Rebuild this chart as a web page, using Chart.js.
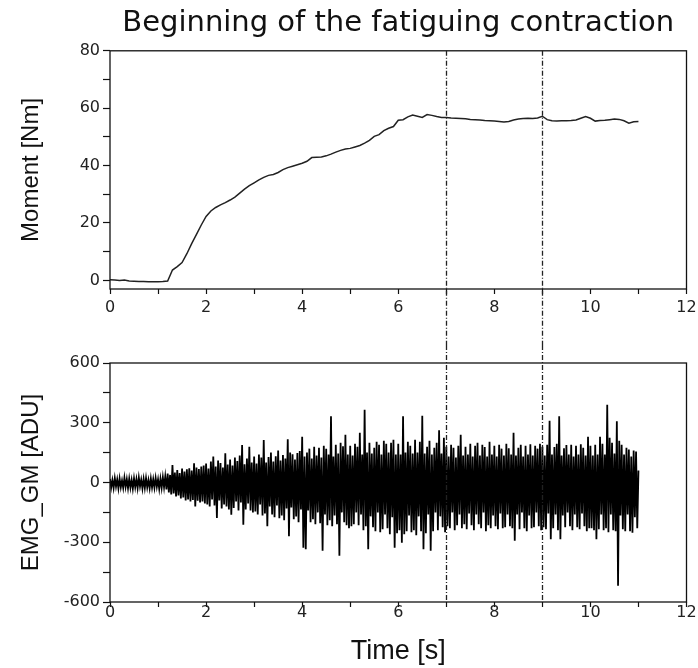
<!DOCTYPE html>
<html>
<head>
<meta charset="utf-8">
<title>Beginning of the fatiguing contraction</title>
<script src="https://cdn.jsdelivr.net/npm/chart.js@4.4.0/dist/chart.umd.min.js"></script>
<style>
  html, body { margin: 0; padding: 0; background: #fff; }
  #wrap { position: relative; width: 698px; height: 668px; }
  #moment-chart { position: absolute; left: 0; top: 0; }
  #emg-chart { position: absolute; left: 0; top: 345px; }
</style>
</head>
<body>
<div id="wrap">
  <canvas id="moment-chart" width="698" height="345"></canvas>
  <canvas id="emg-chart" width="698" height="323"></canvas>
</div>
<script>
const TITLE = "Beginning of the fatiguing contraction";
const X_TITLE = "Time [s]";
const MOMENT_TITLE = "Moment [Nm]";
const EMG_TITLE = "EMG_GM [ADU]";

const X_TICKS = [0, 2, 4, 6, 8, 10, 12];
const MOMENT_TICKS = [0, 20, 40, 60, 80];
const EMG_TICKS = [-600, -300, 0, 300, 600];
const MARKER_TIMES = [7, 9];

// moment, one reading every 0.1 s from 0 to 11 s
const MOMENT_STEP = 0.1;
const MOMENT_VALUES = [
  0.2, 0.1, 0.0, 0.1, -0.2, -0.3, -0.4, -0.4, -0.5, -0.5,
  -0.5, -0.4, -0.2, 3.6, 4.8, 6.2, 9.3, 12.8, 16.0, 19.3,
  22.3, 24.2, 25.4, 26.3, 27.1, 28.0, 29.0, 30.4, 31.8, 33.0,
  34.0, 35.0, 35.9, 36.6, 36.9, 37.6, 38.6, 39.3, 39.8, 40.3,
  40.8, 41.5, 42.8, 42.9, 43.0, 43.4, 44.0, 44.7, 45.3, 45.8,
  46.0, 46.5, 47.0, 47.8, 48.8, 50.2, 50.8, 52.2, 53.0, 53.6,
  55.8, 56.0, 57.0, 57.6, 57.2, 56.8, 57.8, 57.5, 57.1, 56.8,
  56.8, 56.6, 56.5, 56.4, 56.3, 56.1, 56.0, 55.9, 55.7, 55.6,
  55.5, 55.4, 55.2, 55.4, 55.9, 56.2, 56.4, 56.5, 56.4, 56.6,
  57.2, 56.0, 55.6, 55.5, 55.6, 55.6, 55.7, 55.9, 56.5, 57.1,
  56.5, 55.5, 55.7, 55.8, 56.0, 56.2, 56.1, 55.6, 54.8, 55.3,
  55.4,
];

// EMG, one reading every 0.025 s from 0 to 11 s
const EMG_STEP = 0.025;
const EMG_VALUES = [
  // 0 - 1.2 s
  18, -25, 12, -28, 22, -20, 15, -30, 20, -24,
  10, -27, 24, -22, 16, -29, 19, -26, 13, -31,
  21, -23, 17, -28, 25, -20, 14, -30, 18, -27,
  22, -24, 12, -29, 20, -25, 16, -26, 23, -21,
  15, -32, 19, -27, 26, -24, 30, -35,
  // 1.2 - 2 s
  45, -50, 38, -60, 88, -55, 50, -70, 62, -65,
  48, -80, 70, -75, 55, -90, 66, -85, 72, -95,
  60, -88, 97, -120, 75, -92, 68, -100, 80, -95,
  85, -105,
  // 2 - 3 s
  95, -110, 70, -120, 105, -85, 130, -115, 80, -178,
  110, -90, 98, -130, 75, -110, 147, -120, 90, -135,
  115, -162, 85, -128, 125, -95, 108, -140, 135, -100,
  188, -212, 92, -135, 120, -105, 180, -140, 100, -150,
  // 3 - 4 s
  130, -145, 95, -160, 140, -110, 125, -165, 213, -155,
  100, -220, 128, -120, 150, -160, 105, -175, 132, -115,
  160, -180, 110, -165, 138, -190, 120, -130, 217, -270,
  150, -125, 142, -185, 115, -170, 148, -200, 158, -135,
  // 4 - 5 s
  230, -328, 130, -335, 150, -140, 170, -200, 120, -185,
  180, -210, 135, -150, 175, -205, 125, -343, 185, -160,
  170, -215, 140, -190, 332, -220, 130, -165, 190, -210,
  145, -368, 200, -150, 182, -200, 240, -215, 140, -230,
  // 5 - 6 s
  185, -220, 135, -210, 195, -150, 180, -215, 250, -160,
  140, -240, 365, -220, 150, -335, 200, -170, 145, -225,
  175, -245, 205, -150, 190, -250, 140, -235, 210, -160,
  195, -230, 150, -260, 200, -175, 215, -327, 140, -255,
  // 6 - 7 s
  195, -240, 140, -302, 332, -260, 150, -245, 205, -165,
  185, -250, 145, -240, 215, -265, 150, -170, 205, -245,
  335, -335, 145, -255, 180, -160, 210, -343, 140, -245,
  175, -150, 200, -240, 262, -170, 145, -225, 225, -250,
  // 7 - 8 s
  180, -220, 130, -230, 190, -150, 175, -240, 125, -215,
  185, -160, 240, -230, 135, -210, 180, -235, 140, -155,
  195, -215, 130, -240, 185, -160, 200, -210, 135, -230,
  190, -150, 178, -245, 130, -215, 205, -230, 140, -165,
  // 8 - 9 s
  185, -220, 130, -235, 190, -155, 170, -230, 135, -225,
  195, -160, 172, -220, 140, -230, 250, -293, 135, -160,
  175, -235, 190, -150, 130, -230, 185, -245, 140, -165,
  192, -230, 135, -225, 185, -150, 170, -220, 195, -240,
  // 9 - 10 s
  180, -225, 135, -235, 190, -155, 310, -285, 140, -230,
  178, -160, 195, -240, 332, -285, 135, -165, 172, -225,
  188, -150, 140, -220, 190, -240, 130, -160, 185, -225,
  140, -235, 192, -155, 175, -220, 135, -245, 230, -230,
  // 10 - 11 s
  185, -230, 135, -240, 190, -285, 140, -235, 230, -160,
  195, -240, 140, -230, 390, -250, 225, -160, 200, -240,
  145, -245, 307, -518, 210, -165, 190, -235, 140, -245,
  175, -160, 165, -245, 130, -252, 160, -175, 155, -230,
  60,
];

const toPoints = (values, step) =>
  values.map((v, i) => ({ x: +(i * step).toFixed(3), y: v }));

Chart.defaults.font.family = "'DejaVu Sans', sans-serif";
Chart.defaults.color = "#222";

// box round the plot area and the two dash-dot markers
const frameAndMarkers = {
  id: "frameAndMarkers",
  afterDatasetsDraw(chart, args, opts) {
    const { ctx, chartArea: a } = chart;
    const x = chart.scales.x;
    ctx.save();
    ctx.strokeStyle = "#111";
    ctx.lineWidth = 1.3;
    ctx.strokeRect(a.left, a.top, a.right - a.left, a.bottom - a.top);
    ctx.strokeStyle = "#222";
    ctx.lineWidth = 1.3;
    ctx.setLineDash([5, 2, 1, 2]);
    MARKER_TIMES.forEach((t) => {
      const px = Math.round(x.getPixelForValue(t)) + 0.5;
      ctx.beginPath();
      ctx.moveTo(px, opts.fromCanvasTop ? 0 : a.top);
      ctx.lineTo(px, opts.toCanvasBottom ? chart.height : a.bottom);
      ctx.stroke();
    });
    ctx.restore();
  },
};

const tickFont = { size: 16 };

const xAxis = (labelPadding, axisHeight, withTitle) => ({
  type: "linear",
  min: 0,
  max: 12,
  border: { display: false },
  grid: {
    drawOnChartArea: false,
    drawTicks: true,
    tickLength: 5,
    tickColor: "#111",
    tickWidth: 1.2,
  },
  ticks: {
    stepSize: 1,
    autoSkip: false,
    maxRotation: 0,
    padding: labelPadding,
    font: tickFont,
    color: "#222",
    callback: (v) => (X_TICKS.includes(v) ? String(v) : ""),
  },
  title: {
    display: withTitle,
    text: X_TITLE,
    font: { family: "'Liberation Sans', Arial, sans-serif", size: 27 },
    color: "#111",
    padding: { top: 0, bottom: 0 },
  },
  afterFit: (scale) => {
    // same plot width in both panels, whatever the label padding
    scale.height = axisHeight;
    scale.paddingLeft = 0;
    scale.paddingRight = 0;
  },
});

const yAxis = (min, max, step, labels, title) => ({
  type: "linear",
  min: min,
  max: max,
  border: { display: false },
  grid: {
    drawOnChartArea: false,
    drawTicks: true,
    tickLength: 7,
    tickColor: "#111",
    tickWidth: 1.2,
  },
  ticks: {
    stepSize: step,
    autoSkip: false,
    includeBounds: false,
    padding: 3,
    font: tickFont,
    color: "#222",
    callback: (v) => (labels.includes(v) ? String(v) : ""),
  },
  title: {
    display: true,
    text: title,
    font: { family: "'Liberation Sans', Arial, sans-serif", size: 24 },
    color: "#111",
    padding: { top: 17, bottom: 0 },
  },
  afterFit: (scale) => {
    scale.width = 110;
  },
});

const momentChart = new Chart(document.getElementById("moment-chart"), {
  type: "line",
  data: {
    datasets: [
      {
        label: MOMENT_TITLE,
        data: toPoints(MOMENT_VALUES, MOMENT_STEP),
        borderColor: "#222",
        borderWidth: 1.5,
        pointRadius: 0,
        tension: 0,
        fill: false,
      },
    ],
  },
  options: {
    responsive: false,
    animation: false,
    layout: { padding: { left: 0, right: 11.5, top: 0, bottom: 0 } },
    plugins: {
      legend: { display: false },
      tooltip: { enabled: false },
      title: {
        display: true,
        text: TITLE,
        fullSize: false,
        color: "#111",
        font: { size: 29, weight: "normal" },
        padding: { top: 6, bottom: 10 },
      },
      frameAndMarkers: { fromCanvasTop: false, toCanvasBottom: true },
    },
    scales: {
      x: xAxis(4, 56, false),
      y: yAxis(-3, 80, 10, MOMENT_TICKS, MOMENT_TITLE),
    },
  },
  plugins: [frameAndMarkers],
});

const emgChart = new Chart(document.getElementById("emg-chart"), {
  type: "line",
  data: {
    datasets: [
      {
        label: EMG_TITLE,
        data: toPoints(EMG_VALUES, EMG_STEP),
        borderColor: "#000",
        borderWidth: 1.8,
        pointRadius: 0,
        tension: 0,
        fill: false,
      },
    ],
  },
  options: {
    responsive: false,
    animation: false,
    layout: { padding: { left: 0, right: 11.5, top: 18, bottom: 0 } },
    plugins: {
      legend: { display: false },
      tooltip: { enabled: false },
      frameAndMarkers: { fromCanvasTop: true, toCanvasBottom: false },
    },
    scales: {
      x: xAxis(-4, 66, true),
      y: yAxis(-600, 600, 150, EMG_TICKS, EMG_TITLE),
    },
  },
  plugins: [frameAndMarkers],
});
</script>
</body>
</html>
